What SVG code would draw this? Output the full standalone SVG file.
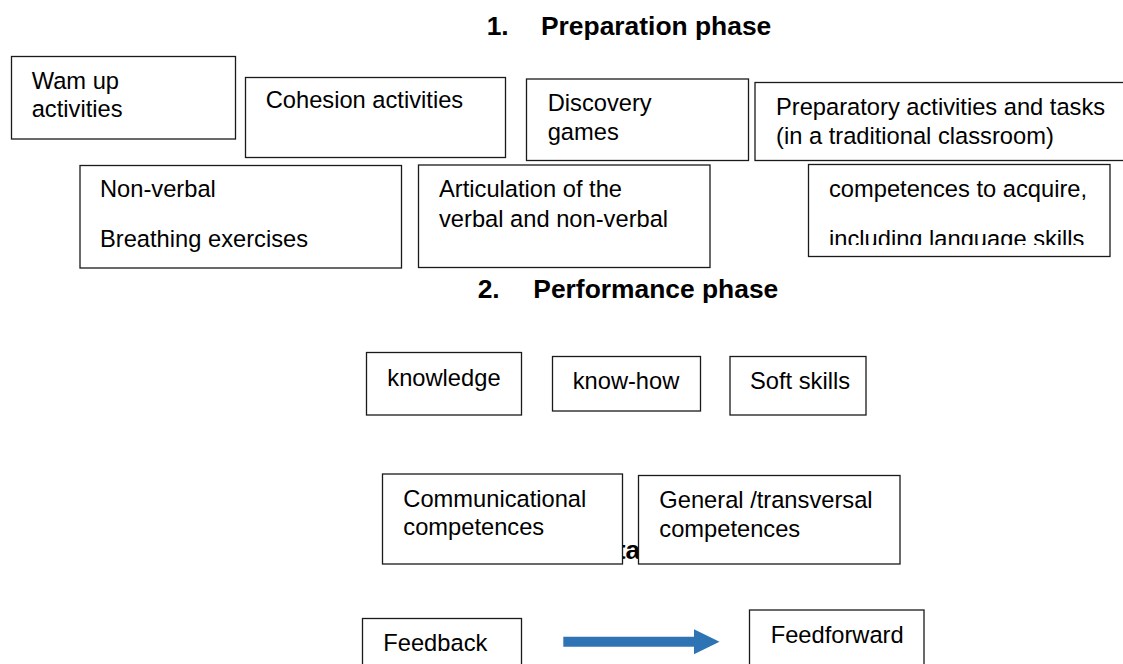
<svg xmlns="http://www.w3.org/2000/svg" width="1123" height="664" viewBox="0 0 1123 664">
  <style>
    .box { fill: #ffffff; stroke: #1a1a1a; stroke-width: 1.3; }
    .txt { font-family: "Liberation Sans", Arial, sans-serif; font-size: 23.7px; fill: #000000; }
    .head { font-family: "Liberation Sans", Arial, sans-serif; font-size: 26.4px; font-weight: bold; fill: #000000; }
    .flow { stroke: #2E74B5; stroke-width: 10; fill: none; }
  </style>
  <defs>
    <marker id="arrowHead" markerUnits="userSpaceOnUse" markerWidth="26" markerHeight="26" refX="0" refY="12.5" orient="auto">
      <path d="M0,0 L25.5,12.5 L0,25 Z" fill="#2E74B5"/>
    </marker>
    <clipPath id="clipCompetences">
      <rect x="808" y="164" width="303" height="81"/>
    </clipPath>
  </defs>
  <rect width="1123" height="664" fill="#ffffff"/>

  <!-- Section headings -->
  <g id="heading-preparation">
    <text class="head" x="486.7" y="35">1.</text>
    <text class="head" x="541" y="35">Preparation phase</text>
  </g>
  <g id="heading-performance">
    <text class="head" x="477.7" y="297.5">2.</text>
    <text class="head" x="533.3" y="297.5">Performance phase</text>
  </g>
  <!-- third heading, only a fragment shows between the two competence boxes -->
  <g id="heading-third">
    <text class="head" x="616.7" y="558.5">ta</text>
  </g>

  <!-- Preparation phase boxes -->
  <g id="warmup">
    <rect class="box" x="11.5" y="56.5" width="224" height="82.5"/>
    <text class="txt" x="31.7" y="89.3">Wam up</text>
    <text class="txt" x="31.7" y="117.3">activities</text>
  </g>
  <g id="cohesion">
    <rect class="box" x="245.5" y="77.5" width="260" height="80"/>
    <text class="txt" x="265.7" y="108.3">Cohesion activities</text>
  </g>
  <g id="discovery">
    <rect class="box" x="526.5" y="79" width="222" height="81.5"/>
    <text class="txt" x="547.7" y="111">Discovery</text>
    <text class="txt" x="547.7" y="140">games</text>
  </g>
  <g id="preparatory">
    <rect class="box" x="755" y="82.5" width="380" height="78"/>
    <text class="txt" x="776" y="115">Preparatory activities and tasks</text>
    <text class="txt" x="776" y="144.3">(in a traditional classroom)</text>
  </g>
  <g id="nonverbal">
    <rect class="box" x="80" y="165.5" width="321.5" height="102.5"/>
    <text class="txt" x="100" y="197.3">Non-verbal</text>
    <text class="txt" x="100" y="246.7">Breathing exercises</text>
  </g>
  <g id="articulation">
    <rect class="box" x="418.5" y="165" width="291.5" height="102.5"/>
    <text class="txt" x="439" y="196.7">Articulation of the</text>
    <text class="txt" x="439" y="226.7">verbal and non-verbal</text>
  </g>
  <g id="competences">
    <rect class="box" x="808.5" y="164.5" width="301.5" height="92"/>
    <text class="txt" x="829" y="196.5">competences to acquire,</text>
    <text class="txt" x="829" y="246.5" clip-path="url(#clipCompetences)">including language skills</text>
  </g>

  <!-- Performance phase boxes -->
  <g id="knowledge">
    <rect class="box" x="366.5" y="352.5" width="155" height="62.5"/>
    <text class="txt" x="387.3" y="386">knowledge</text>
  </g>
  <g id="knowhow">
    <rect class="box" x="552.5" y="356.5" width="148" height="54.5"/>
    <text class="txt" x="572.7" y="389">know-how</text>
  </g>
  <g id="softskills">
    <rect class="box" x="730" y="356.5" width="136" height="58.5"/>
    <text class="txt" x="750" y="389">Soft skills</text>
  </g>
  <g id="communicational">
    <rect class="box" x="382.5" y="474" width="240" height="90"/>
    <text class="txt" x="403.3" y="506.7">Communicational</text>
    <text class="txt" x="403.3" y="535">competences</text>
  </g>
  <g id="general">
    <rect class="box" x="638.5" y="475.5" width="261.5" height="88.5"/>
    <text class="txt" x="659.3" y="507.7">General /transversal</text>
    <text class="txt" x="659.3" y="536.7">competences</text>
  </g>

  <!-- Feedback loop -->
  <g id="feedback">
    <rect class="box" x="362.5" y="618.5" width="159" height="60"/>
    <text class="txt" x="383.3" y="650.7">Feedback</text>
  </g>
  <g id="feedforward">
    <rect class="box" x="749.5" y="610" width="174.5" height="70"/>
    <text class="txt" x="770.7" y="642.7">Feedforward</text>
  </g>

  <g id="connectors">
    <line class="flow" x1="563.3" y1="641.7" x2="694" y2="641.7" marker-end="url(#arrowHead)"/>
  </g>
</svg>
